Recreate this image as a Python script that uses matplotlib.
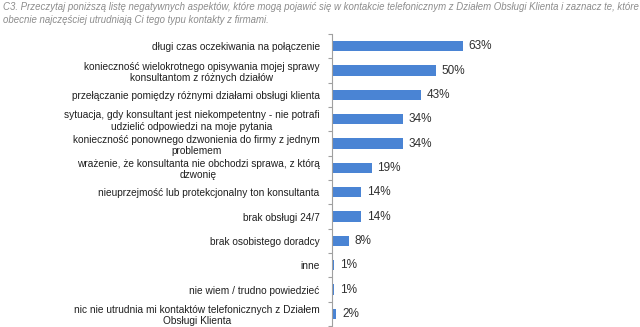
import matplotlib.pyplot as plt

# Dane
KATEGORIE = [
    'długi czas oczekiwania na połączenie',
    'konieczność wielokrotnego opisywania mojej sprawy\nkonsultantom z różnych działów',
    'przełączanie pomiędzy różnymi działami obsługi klienta',
    'sytuacja, gdy konsultant jest niekompetentny - nie potrafi\nudzielić odpowiedzi na moje pytania',
    'konieczność ponownego dzwonienia do firmy z jednym\nproblemem',
    'wrażenie, że konsultanta nie obchodzi sprawa, z którą\ndzwonię',
    'nieuprzejmość lub protekcjonalny ton konsultanta',
    'brak obsługi 24/7',
    'brak osobistego doradcy',
    'inne',
    'nie wiem / trudno powiedzieć',
    'nic nie utrudnia mi kontaktów telefonicznych z Działem\nObsługi Klienta',
]
WARTOSCI = [63, 50, 43, 34, 34, 19, 14, 14, 8, 1, 1, 2]
TYTUL = ('C3. Przeczytaj poniższą listę negatywnych aspektów, które mogą pojawić się w kontakcie '
         'telefonicznym z Działem Obsługi Klienta i zaznacz te, które\n'
         'obecnie najczęściej utrudniają Ci tego typu kontakty z firmami.')

plt.rcParams['font.family'] = ['Liberation Sans', 'DejaVu Sans']

fig = plt.figure(figsize=(6.4, 3.27), dpi=100)
fig.text(0.005, 0.993, TYTUL, ha='left', va='top', fontsize=6.9,
         style='italic', color='#8c8c8c', linespacing=1.4)

ax = fig.add_axes([0.519, 0.003, 0.22, 0.893])
y = list(range(len(KATEGORIE)))
ax.barh(y, WARTOSCI, height=0.42, color='#4a84d4')
for yi, v in zip(y, WARTOSCI):
    ax.text(v + 2.8, yi, f'{v}%', va='center', ha='left', fontsize=8.5, color='#303030')

ax.set_ylim(len(KATEGORIE) - 0.5, -0.5)
ax.set_xlim(0, 68)
ax.set_yticks([i - 0.5 for i in range(len(KATEGORIE) + 1)])
ax.set_yticklabels([])
ax.set_yticks(y, minor=True)
ax.set_yticklabels(KATEGORIE, minor=True, fontsize=7.25, color='#202020',
                   multialignment='center', linespacing=1.2)
ax.tick_params(axis='y', which='major', length=3, color='#a0a0a0', direction='out')
ax.tick_params(axis='y', which='minor', length=0, pad=9)
ax.set_xticks([])
for s in ['top', 'right', 'bottom']:
    ax.spines[s].set_visible(False)
ax.spines['left'].set_color('#a0a0a0')
ax.spines['left'].set_linewidth(0.8)

fig.savefig('out.png', dpi=100)
